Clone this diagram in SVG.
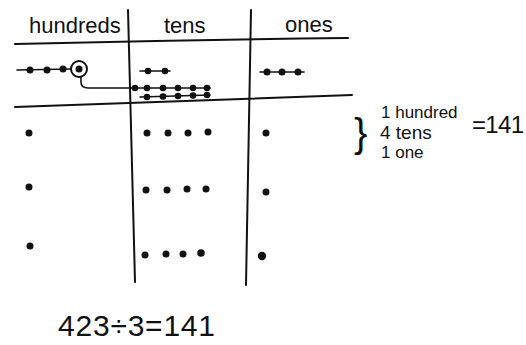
<svg xmlns="http://www.w3.org/2000/svg" width="526" height="345" viewBox="0 0 526 345">
<style>
.ln{stroke:#111;stroke-width:2;fill:none;stroke-linecap:round}
.thin{stroke:#111;stroke-width:1.6;fill:none;stroke-linecap:round}
.d{fill:#111}
.t{font-family:"Liberation Sans",Arial,sans-serif;fill:#111}
</style>
<rect width="526" height="345" fill="#fff"/>
<g id="grid">
<path class="ln" d="M128,10 L135,282"/>
<path class="ln" d="M251,10 L246,285"/>
<path class="ln" d="M15,44 Q180,40 348,38"/>
<path class="ln" d="M15,107 Q180,101 352,95"/>
</g>
<g id="headers">
<text class="t" x="29" y="33" font-size="22">hundreds</text>
<text class="t" x="164" y="33" font-size="22">tens</text>
<text class="t" x="285" y="32" font-size="22">ones</text>
</g>
<g id="hundreds-row">
<path class="thin" d="M17,70 L71,69"/>
<circle class="d" cx="30" cy="70" r="3.5"/>
<circle class="d" cx="47" cy="70" r="3.5"/>
<circle class="d" cx="63" cy="69" r="3.5"/>
<circle cx="79" cy="69" r="8" fill="#fff" stroke="#111" stroke-width="2"/>
<circle class="d" cx="79" cy="69" r="3.5"/>
</g>
<g id="connectors">
<path class="thin" d="M81,77 L81,82 Q81,88 88,88 L133,88"/>
</g>
<g id="tens-row">
<path class="thin" d="M140,71 L170,71"/>
<circle class="d" cx="148" cy="71" r="3.3"/>
<circle class="d" cx="165" cy="71" r="3.3"/>
<path class="thin" d="M133,88 L210,88"/>
<circle class="d" cx="135" cy="88" r="3.3"/>
<circle class="d" cx="147" cy="88" r="3.3"/>
<circle class="d" cx="163" cy="88" r="3.3"/>
<circle class="d" cx="178" cy="88" r="3.3"/>
<circle class="d" cx="193" cy="88" r="3.3"/>
<circle class="d" cx="207" cy="88" r="3.3"/>
<path class="thin" d="M140,97 L210,95"/>
<circle class="d" cx="147" cy="97" r="3.3"/>
<circle class="d" cx="163" cy="96.5" r="3.3"/>
<circle class="d" cx="178" cy="96" r="3.3"/>
<circle class="d" cx="193" cy="95.5" r="3.3"/>
<circle class="d" cx="207" cy="95" r="3.3"/>
</g>
<g id="ones-row">
<path class="thin" d="M260,72 L304,72"/>
<circle class="d" cx="267" cy="72" r="3.5"/>
<circle class="d" cx="282" cy="72" r="3.5"/>
<circle class="d" cx="298" cy="72" r="3.5"/>
</g>
<g id="hundreds-groups">
<circle class="d" cx="29" cy="133" r="3.5"/>
<circle class="d" cx="29" cy="187" r="3.5"/>
<circle class="d" cx="30" cy="246" r="3.5"/>
</g>
<g id="tens-groups">
<circle class="d" cx="147" cy="133" r="3.5"/>
<circle class="d" cx="168" cy="133" r="3.5"/>
<circle class="d" cx="188" cy="133" r="3.5"/>
<circle class="d" cx="208" cy="132" r="3.5"/>
<circle class="d" cx="146" cy="190" r="3.5"/>
<circle class="d" cx="167" cy="190" r="3.5"/>
<circle class="d" cx="187" cy="189" r="3.5"/>
<circle class="d" cx="206" cy="189" r="3.5"/>
<circle class="d" cx="145" cy="255" r="3.5"/>
<circle class="d" cx="166" cy="254" r="3.5"/>
<circle class="d" cx="183" cy="254" r="3.5"/>
<circle class="d" cx="201" cy="253" r="3.8"/>
</g>
<g id="ones-groups">
<circle class="d" cx="266" cy="133" r="3.5"/>
<circle class="d" cx="266" cy="192" r="3.5"/>
<circle class="d" cx="262" cy="256" r="4.2"/>
</g>
<g id="result">
<text class="t" x="354" y="147" font-size="40">}</text>
<text class="t" x="381" y="118" font-size="17">1 hundred</text>
<text class="t" x="380" y="139" font-size="19">4 tens</text>
<text class="t" x="381" y="158" font-size="17">1 one</text>
<text class="t" x="472" y="133" font-size="24" textLength="52">=141</text>
</g>
<g id="equation">
<text class="t" x="58" y="336" font-size="30" textLength="157">423÷3=141</text>
</g>
</svg>
